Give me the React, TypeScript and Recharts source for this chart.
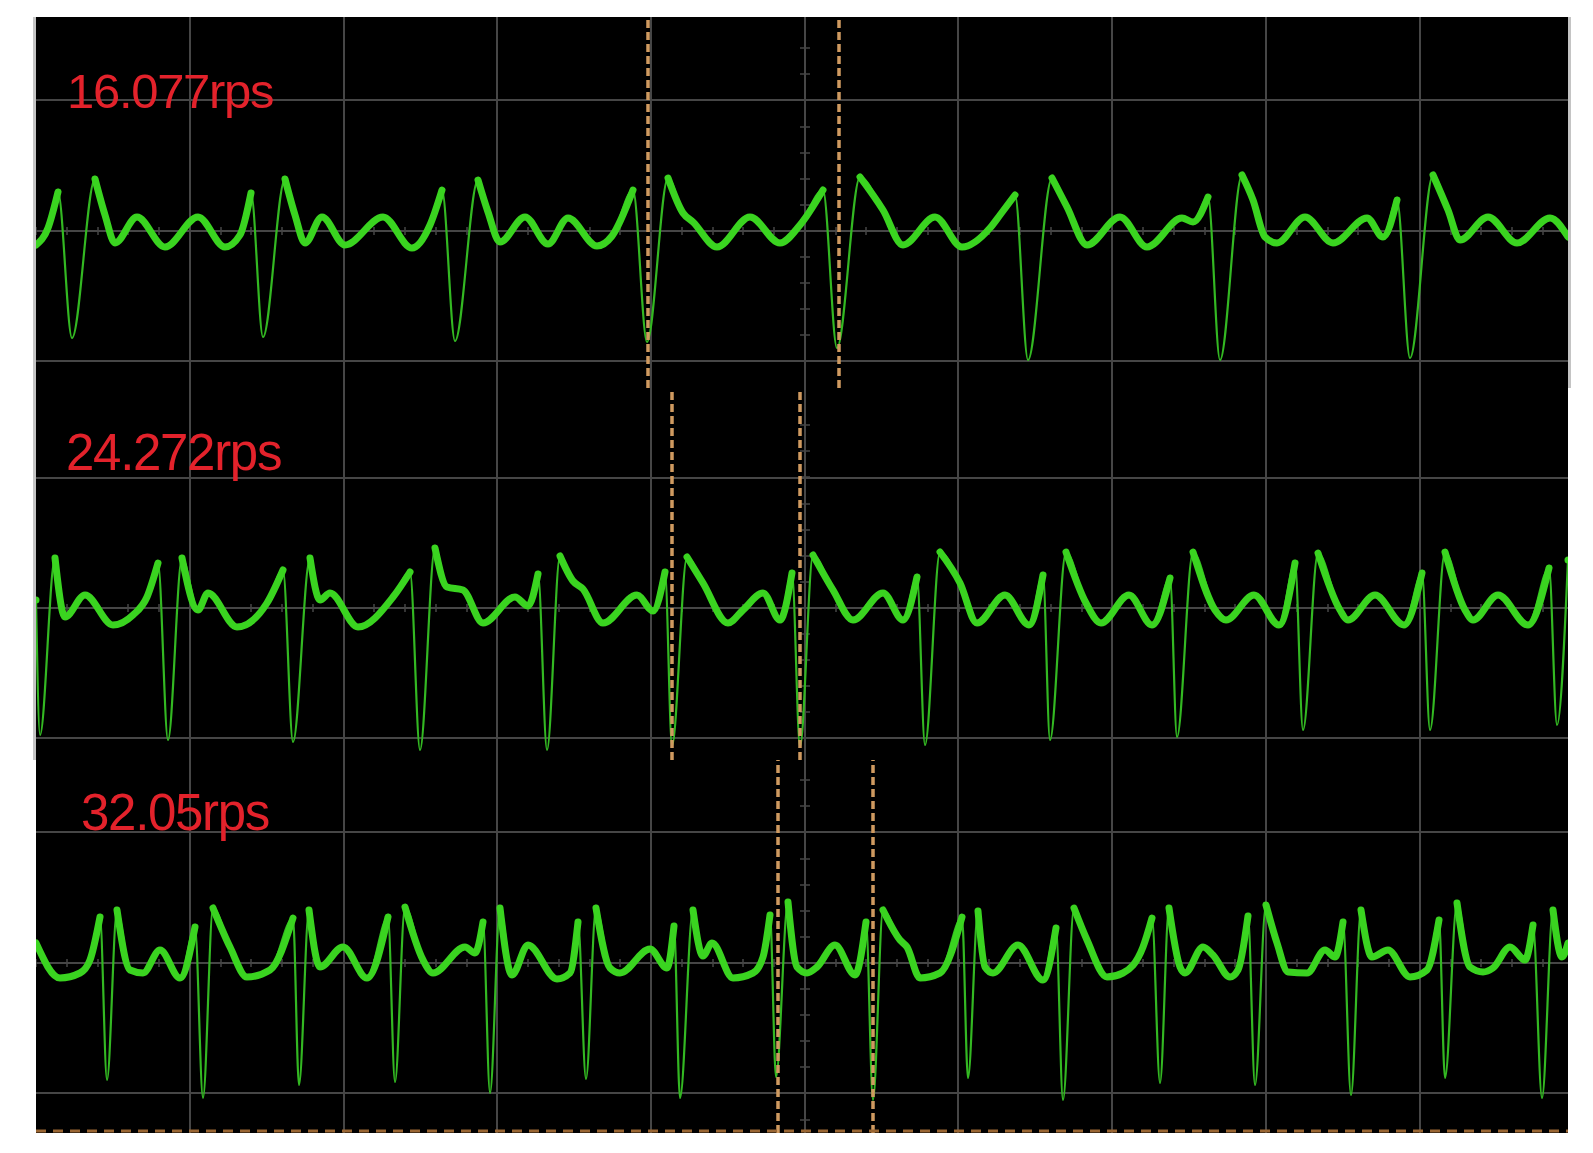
import { Line, LineChart, ReferenceLine, XAxis, YAxis } from 'recharts'

type Sample = [number, number]

// time in samples from the left edge of the screen, amplitude in counts from the centre line
const trace16077: Sample[] = [
  [0, -14], [12, 3], [22, 39], [36, -107], [59, 52], [69, 16], [79, -12], [101, 14], [129, -16],
  [162, 14], [189, -16], [204, -4], [215, 38], [227, -106], [249, 52], [259, 16], [269, -12],
  [286, 14], [309, -14], [347, 14], [376, -17], [394, 6], [406, 41], [419, -110], [442, 51],
  [452, 19], [464, -11], [489, 14], [512, -13], [532, 13], [561, -15], [576, -5], [597, 41],
  [611, -111], [632, 53], [647, 18], [657, 9], [681, -16], [714, 14], [744, -12], [764, 6],
  [787, 41], [801, -117], [824, 54], [847, 21], [867, -14], [899, 14], [926, -16], [954, 3],
  [964, 16], [979, 36], [992, -129], [1016, 53], [1031, 24], [1051, -14], [1084, 14], [1111, -16],
  [1146, 13], [1157, 9], [1172, 34], [1184, -129], [1206, 56], [1217, 31], [1229, -6], [1241, -12],
  [1269, 14], [1297, -12], [1331, 13], [1347, -6], [1361, 31], [1374, -127], [1397, 56], [1412, 21],
  [1424, -9], [1452, 14], [1481, -12], [1514, 13], [1532, -6],
]

const trace24272: Sample[] = [
  [0, 8], [4, -127], [19, 50], [29, -9], [49, 13], [77, -17], [97, -7], [111, 11], [122, 45],
  [132, -132], [146, 50], [162, -2], [172, 15], [201, -19], [231, 5], [247, 38], [257, -134],
  [274, 50], [284, 8], [294, 15], [322, -19], [357, 11], [374, 36], [384, -142], [399, 60],
  [411, 21], [427, 18], [447, -15], [479, 11], [492, 2], [502, 34], [511, -142], [524, 52],
  [537, 27], [547, 19], [567, -15], [601, 13], [617, -3], [629, 36], [636, -138], [651, 51],
  [667, 25], [692, -15], [707, -2], [727, 15], [744, -12], [756, 35], [764, -139], [777, 53],
  [797, 18], [817, -12], [847, 15], [867, -12], [881, 31], [889, -137], [904, 56], [924, 25],
  [941, -15], [969, 13], [993, -17], [1007, 33], [1014, -132], [1030, 56], [1050, 5], [1065, -15],
  [1093, 13], [1116, -17], [1134, 30], [1141, -129], [1157, 56], [1179, -2], [1190, -12], [1218, 13],
  [1243, -17], [1259, 45], [1267, -122], [1282, 55], [1304, -2], [1312, -12], [1339, 13], [1368, -17],
  [1386, 35], [1394, -122], [1409, 56], [1429, -2], [1437, -12], [1462, 13], [1492, -17], [1513, 40],
  [1521, -117], [1532, 48],
]

const trace3205: Sample[] = [
  [0, 20], [24, -15], [44, -10], [54, 3], [64, 46], [71, -117], [81, 53], [94, -7], [107, -10],
  [124, 13], [144, -15], [159, 36], [167, -135], [177, 55], [194, 16], [211, -14], [234, -7],
  [257, 45], [263, -122], [273, 53], [284, -4], [307, 16], [331, -15], [352, 46], [359, -119],
  [369, 56], [387, 3], [397, -10], [429, 16], [439, 10], [447, 41], [454, -130], [464, 55],
  [476, -12], [492, 18], [521, -16], [534, -10], [542, 41], [550, -116], [560, 55], [574, -5],
  [584, -10], [614, 14], [631, -5], [638, 37], [644, -135], [657, 53], [667, 7], [676, 20],
  [697, -15], [717, -10], [727, 6], [734, 48], [740, -114], [752, 61], [761, -4], [771, -10],
  [781, -4], [799, 18], [819, -12], [830, 41], [837, -137], [847, 53], [864, 23], [871, 16],
  [884, -15], [904, -10], [926, 46], [932, -115], [942, 52], [949, -4], [957, -10], [982, 18],
  [1007, -17], [1020, 35], [1027, -137], [1038, 55], [1051, 23], [1071, -14], [1087, -10], [1107, 16],
  [1116, 45], [1124, -120], [1133, 55], [1144, -4], [1149, -10], [1167, 16], [1177, 8], [1194, -14],
  [1202, -7], [1212, 47], [1219, -122], [1230, 58], [1241, 20], [1252, -9], [1271, -10], [1289, 13],
  [1299, 6], [1307, 41], [1315, -132], [1325, 53], [1336, 6], [1352, 13], [1374, -14], [1391, -7],
  [1403, 43], [1409, -115], [1421, 60], [1434, -4], [1447, -9], [1457, -5], [1474, 16], [1489, 3],
  [1497, 38], [1506, -135], [1517, 53], [1526, 6], [1532, 20],
]

const gridTimes = [154, 308, 461, 615, 769, 922, 1076, 1230, 1384]
const centreTime = 769
const labels = ['16.077rps', '24.272rps', '32.05rps']
const cursors16077 = [612, 803]
const cursors24272 = [636, 764]
const cursors3205 = [742, 837]

const GRID = '#464646'
const CURSOR = '#cf9a60'
const WIDTH = 1532

// minor divisions on the centre cross (5 per division)
const minorTimes = Array.from({ length: 50 }, (_, i) => Math.round(i * 30.75))
const minorLevels = Array.from({ length: 15 }, (_, i) => Math.round((i - 7) * 26.1))

interface PanelSpec {
  label: string
  trace: Sample[]
  cursors: number[]
  levels: number[]
  domain: [number, number]
  top: number
  height: number
  labelLeft: number
  labelTop: number
  fontSize: number
  bottomCursor?: number
}

const panels: PanelSpec[] = [
  {
    label: labels[0], trace: trace16077, cursors: cursors16077, levels: [131, 0, -130],
    domain: [-157, 214], top: 17, height: 371, labelLeft: 31, labelTop: 50, fontSize: 49,
  },
  {
    label: labels[1], trace: trace24272, cursors: cursors24272, levels: [130, 0, -130],
    domain: [-152, 220], top: 388, height: 372, labelLeft: 30, labelTop: 39, fontSize: 51,
  },
  {
    label: labels[2], trace: trace3205, cursors: cursors3205, levels: [131, 0, -130],
    domain: [-170, 203], top: 760, height: 373, labelLeft: 45, labelTop: 27, fontSize: 51,
    bottomCursor: -168,
  },
]

function ScopePanel({ p }: { p: PanelSpec }) {
  const data = p.trace.map(([t, v]) => ({ t, v, band: v > -45 ? v : null }))
  const [lo, hi] = p.domain
  return (
    <div style={{ position: 'absolute', left: 36, top: p.top, width: WIDTH, height: p.height, background: '#000' }}>
      <LineChart width={WIDTH} height={p.height} data={data} margin={{ top: 0, right: 0, bottom: 0, left: 0 }}>
        <XAxis type="number" dataKey="t" domain={[0, WIDTH]} hide allowDataOverflow />
        <YAxis type="number" domain={p.domain} hide allowDataOverflow />
        {gridTimes.map((g) => (
          <ReferenceLine key={`gx${g}`} x={g} stroke={GRID} strokeWidth={2} />
        ))}
        {p.levels.map((l) => (
          <ReferenceLine key={`gy${l}`} y={l} stroke={GRID} strokeWidth={2} />
        ))}
        {minorLevels
          .filter((m) => m > lo && m < hi)
          .map((m) => (
            <ReferenceLine
              key={`my${m}`}
              segment={[{ x: centreTime - 5, y: m }, { x: centreTime + 5, y: m }]}
              stroke={GRID}
              strokeWidth={1.5}
            />
          ))}
        {minorTimes.map((m) => (
          <ReferenceLine
            key={`mx${m}`}
            segment={[{ x: m, y: -4 }, { x: m, y: 4 }]}
            stroke={GRID}
            strokeWidth={1.5}
          />
        ))}
        <Line
          type="monotoneX"
          dataKey="v"
          stroke="#33b822"
          strokeWidth={2.2}
          dot={false}
          activeDot={false}
          isAnimationActive={false}
        />
        <Line
          type="monotoneX"
          dataKey="band"
          stroke="#3ad420"
          strokeWidth={7}
          strokeLinejoin="round"
          strokeLinecap="round"
          dot={false}
          activeDot={false}
          connectNulls={false}
          isAnimationActive={false}
        />
        {p.cursors.map((c) => (
          <ReferenceLine key={`c${c}`} x={c} stroke={CURSOR} strokeWidth={3.5} strokeDasharray="8 4" />
        ))}
        {p.bottomCursor !== undefined && (
          <ReferenceLine y={p.bottomCursor} stroke="#9a6633" strokeWidth={3} strokeDasharray="10 7" />
        )}
      </LineChart>
      <div
        style={{
          position: 'absolute',
          left: p.labelLeft,
          top: p.labelTop,
          fontFamily: '"Liberation Sans", Arial, sans-serif',
          fontSize: p.fontSize,
          lineHeight: 1,
          letterSpacing: -1.3,
          color: '#e3222b',
          whiteSpace: 'nowrap',
        }}
      >
        {p.label}
      </div>
    </div>
  )
}

export default function App() {
  return (
    <div style={{ position: 'relative', width: 1593, height: 1153, margin: -8, background: '#fff', overflow: 'hidden' }}>
      <div style={{ position: 'absolute', left: 33, top: 17, width: 3, height: 743, background: '#c4c4c4' }} />
      <div style={{ position: 'absolute', left: 1568, top: 17, width: 3, height: 371, background: '#c4c4c4' }} />
      {panels.map((p) => (
        <ScopePanel key={p.label} p={p} />
      ))}
    </div>
  )
}
